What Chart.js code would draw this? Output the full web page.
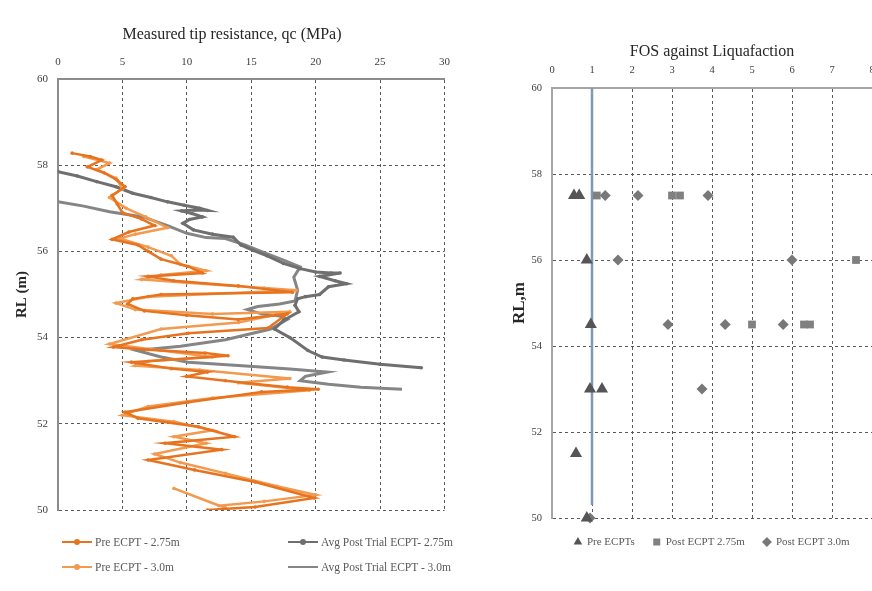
<!DOCTYPE html>
<html>
<head>
<title>Tip resistance and FOS profiles</title>
<script src="https://cdn.jsdelivr.net/npm/chart.js"></script>
<style>
    body { margin: 0; width: 872px; height: 591px; overflow: hidden; background: #fff; position: relative; font-family: 'Liberation Serif', 'Times New Roman', serif; }
    #left { position: absolute; left: 0; top: 0; }
    #right { position: absolute; left: 470px; top: 0; }
    .leg { position: absolute; font-size: 11.5px; color: #595959; white-space: nowrap; line-height: 14px; }
    .sw { display: inline-block; position: relative; width: 30px; height: 14px; vertical-align: top; margin-right: 3px; }
    .sw i { position: absolute; left: 0; right: 0; top: 6px; height: 2px; }
    .sw b { position: absolute; left: 12px; top: 4px; width: 6px; height: 6px; border-radius: 50%; }
</style>
</head>
<body>
<canvas id="left" width="460" height="591"></canvas>
<canvas id="right" width="420" height="591"></canvas>

<div class="leg" style="left:62px; top:535px;"><span class="sw"><i style="background:#e8731e"></i><b style="background:#e8731e"></b></span>Pre ECPT - 2.75m</div>
<div class="leg" style="left:288px; top:535px;"><span class="sw"><i style="background:#6f6f6f"></i><b style="background:#6f6f6f"></b></span>Avg Post Trial ECPT- 2.75m</div>
<div class="leg" style="left:62px; top:560px;"><span class="sw"><i style="background:#f29a50"></i><b style="background:#f29a50"></b></span>Pre ECPT - 3.0m</div>
<div class="leg" style="left:288px; top:560px;"><span class="sw"><i style="background:#858585"></i></span>Avg Post Trial ECPT - 3.0m</div>

<script>
    // ---- left chart: measured tip resistance qc (MPa) vs RL (m)
    const qcTicks = [0, 5, 10, 15, 20, 25, 30];
    const rlTicks = [50, 52, 54, 56, 58, 60];

    const pre275Qc = [1.1, 2.5, 3.4, 2.3, 3.6, 4.6, 5.2, 4.2, 4.6, 5.0, 6.5, 7.5, 5.5, 4.2, 6.2, 7.0, 8.0, 10.1, 11.2, 7.0, 9.0, 14.0, 18.2, 8.0, 5.8, 5.4, 6.7, 10.0, 14.0, 17.8, 16.3, 10.1, 6.5, 4.3, 7.0, 11.4, 13.2, 5.7, 8.8, 11.6, 10.0, 13.0, 17.8, 20.2, 15.8, 10.1, 5.2, 6.2, 10.9, 13.7, 8.3, 12.7, 7.0, 10.6, 15.3, 19.9, 15.3, 11.6];
    const pre275Rl = [58.28, 58.2, 58.12, 57.96, 57.82, 57.65, 57.5, 57.3, 57.1, 56.9, 56.75, 56.6, 56.45, 56.28, 56.15, 56.0, 55.82, 55.65, 55.5, 55.42, 55.32, 55.2, 55.05, 55.0, 54.9, 54.78, 54.62, 54.52, 54.42, 54.55, 54.22, 54.1, 53.95, 53.78, 53.72, 53.64, 53.58, 53.43, 53.28, 53.2, 53.1, 53.0, 52.85, 52.8, 52.74, 52.5, 52.27, 52.13, 51.93, 51.7, 51.55, 51.4, 51.16, 50.93, 50.65, 50.28, 50.07, 50.0];

    const pre30Qc = [2.0, 4.0, 3.0, 4.5, 5.0, 4.0, 5.3, 6.8, 8.5, 6.0, 4.8, 7.0, 8.8, 9.5, 11.5, 8.0, 6.5, 10.0, 16.0, 18.5, 7.0, 4.5, 6.0, 12.0, 18.0, 14.0, 8.0, 4.0, 8.0, 12.0, 7.0, 6.0, 11.0, 18.0, 14.0, 19.5, 12.0, 7.0, 5.0, 9.0, 12.0, 9.0, 11.5, 7.5, 9.5, 13.0, 17.0, 20.0, 16.0, 12.5, 9.0, 13.0];
    const pre30Rl = [58.2, 58.05, 57.9, 57.7, 57.45, 57.25, 57.0, 56.8, 56.55, 56.4, 56.3, 56.1, 55.9, 55.7, 55.55, 55.45, 55.35, 55.27, 55.15, 55.1, 54.95, 54.8, 54.65, 54.55, 54.6, 54.35, 54.2, 53.85, 53.7, 53.55, 53.45, 53.35, 53.25, 53.05, 52.95, 52.78, 52.6, 52.4, 52.2, 52.05, 51.85, 51.7, 51.55, 51.3, 51.1, 50.85, 50.55, 50.35, 50.2, 50.1, 50.5, 50.05];

    const post275Qc = [0, 1.5, 3, 4.5, 5.8, 7.2, 8.5, 9.8, 11, 11.6, 10.6, 9.6, 10.4, 11.2, 10.2, 9.7, 10.5, 12, 13.6, 14.2, 15.2, 16.2, 17.5, 18.8, 20, 21.2, 21.9, 20.3, 21.5, 22.4, 21, 20.3, 19.2, 18.6, 18.4, 18.7, 17.5, 16.8, 18, 19.4, 20.5, 22.2, 25, 28.2];
    const post275Rl = [57.85, 57.75, 57.62, 57.5, 57.35, 57.25, 57.15, 57.07, 57.0, 56.95, 56.96, 56.94, 56.88, 56.8, 56.74, 56.65, 56.5, 56.4, 56.33, 56.15, 56.02, 55.9, 55.72, 55.6, 55.52, 55.5, 55.5, 55.42, 55.32, 55.25, 55.18, 55.0, 54.95, 54.9, 54.75, 54.6, 54.4, 54.2, 54.0, 53.7, 53.55, 53.48, 53.38, 53.3];

    const post30Qc = [0, 2, 4, 6.6, 8.5, 10, 11.5, 13, 14.5, 16.2, 17.5, 18.8, 18.3, 18.6, 18.4, 17.2, 15.5, 14.7, 15.8, 17.2, 17.8, 16.5, 13, 9.5, 6.1, 8, 10.1, 14, 18, 20.9, 19.2, 18.8, 21, 23.5, 26.7];
    const post30Rl = [57.15, 57.05, 56.92, 56.8, 56.6, 56.42, 56.32, 56.3, 56.15, 55.95, 55.8, 55.64, 55.4, 55.1, 54.85, 54.78, 54.72, 54.65, 54.55, 54.5, 54.42, 54.2, 53.95, 53.8, 53.7, 53.55, 53.43, 53.35, 53.27, 53.2, 53.1, 53.0, 52.92, 52.85, 52.8];

    // ---- right chart: FOS against liquefaction vs RL
    const fosTicks = [0, 1, 2, 3, 4, 5, 6, 7, 8];
    const preFos = [0.55, 0.68, 0.87, 0.97, 0.95, 1.25, 0.6, 0.87];
    const preFosRl = [57.5, 57.5, 56, 54.5, 53, 53, 51.5, 50];
    const post275Fos = [1.12, 3.0, 3.2, 7.6, 5.0, 6.3, 6.45];
    const post275FosRl = [57.5, 57.5, 57.5, 56, 54.5, 54.5, 54.5];
    const post30Fos = [1.33, 2.15, 3.9, 1.65, 6.0, 2.9, 4.33, 5.78, 3.75, 0.95];
    const post30FosRl = [57.5, 57.5, 57.5, 56, 56, 54.5, 54.5, 54.5, 53, 50];
    const limitFos = [1, 1];
    const limitRl = [60, 50.3];

    const serif = "'Liberation Serif', 'Times New Roman', serif";
    const tickColor = '#404040';
    const gridColor = '#595959';

    function pts(xs, ys) {
        return xs.map((x, i) => ({ x: x, y: ys[i] }));
    }
    function fixedTicks(list) {
        return scale => { scale.ticks = list.map(v => ({ value: v })); };
    }

    new Chart(document.getElementById('left'), {
        type: 'scatter',
        data: {
            datasets: [
                { label: 'Pre ECPT - 2.75m', data: pts(pre275Qc, pre275Rl), showLine: true, borderColor: '#e8731e', backgroundColor: '#e8731e', borderWidth: 2.5, pointRadius: 1.8, pointBorderWidth: 0 },
                { label: 'Pre ECPT - 3.0m', data: pts(pre30Qc, pre30Rl), showLine: true, borderColor: '#f29a50', backgroundColor: '#f29a50', borderWidth: 2.5, pointRadius: 1.8, pointBorderWidth: 0 },
                { label: 'Avg Post Trial ECPT- 2.75m', data: pts(post275Qc, post275Rl), showLine: true, borderColor: '#6f6f6f', backgroundColor: '#6f6f6f', borderWidth: 3, pointRadius: 1.8, pointBorderWidth: 0 },
                { label: 'Avg Post Trial ECPT - 3.0m', data: pts(post30Qc, post30Rl), showLine: true, borderColor: '#858585', backgroundColor: '#858585', borderWidth: 3, pointRadius: 0 }
            ]
        },
        options: {
            responsive: false,
            animation: false,
            layout: { padding: { left: 19, right: 15, top: 0, bottom: 81 } },
            plugins: {
                legend: { display: false },
                tooltip: { enabled: false },
                title: {
                    display: true,
                    text: 'Measured tip resistance, qc (MPa)',
                    color: '#262626',
                    font: { family: serif, size: 16, weight: 'normal' },
                    padding: { top: 25.4, bottom: 0 }
                }
            },
            scales: {
                x: {
                    type: 'linear', position: 'top', min: 0, max: 30,
                    afterBuildTicks: fixedTicks(qcTicks),
                    afterFit: s => { s.height = 34.4; },
                    ticks: { padding: 10, color: tickColor, font: { family: serif, size: 11 } },
                    grid: { color: gridColor, drawTicks: false },
                    border: { color: '#8c8c8c', width: 2, dash: [3, 3] }
                },
                y: {
                    type: 'linear', min: 50, max: 60,
                    afterBuildTicks: fixedTicks(rlTicks),
                    afterFit: s => { s.width = 39; },
                    ticks: { padding: 10, color: tickColor, font: { family: serif, size: 11 } },
                    grid: { color: gridColor, drawTicks: false },
                    border: { color: '#8c8c8c', width: 2, dash: [3, 3] },
                    title: { display: true, text: 'RL (m)', color: '#262626', font: { family: serif, size: 15, weight: 'bold' }, padding: { top: -6, bottom: 0 } }
                }
            }
        }
    });

    new Chart(document.getElementById('right'), {
        type: 'scatter',
        data: {
            datasets: [
                { label: 'Pre ECPTs', data: pts(preFos, preFosRl), clip: false, pointStyle: 'triangle', pointRadius: 7, backgroundColor: '#555555', borderColor: '#555555', borderWidth: 0 },
                { label: 'Post ECPT 2.75m', data: pts(post275Fos, post275FosRl), clip: false, pointStyle: 'rect', pointRadius: 5.5, backgroundColor: '#808080', borderColor: '#808080', borderWidth: 0 },
                { label: 'Post ECPT 3.0m', data: pts(post30Fos, post30FosRl), clip: false, pointStyle: 'rectRot', pointRadius: 5.5, backgroundColor: '#787878', borderColor: '#787878', borderWidth: 0 },
                { label: 'FOS = 1', data: pts(limitFos, limitRl), showLine: true, pointRadius: 0, borderColor: '#7f98b5', borderWidth: 2.5, order: 1 }
            ]
        },
        options: {
            responsive: false,
            animation: false,
            layout: { padding: { left: 0, right: 18, top: 0, bottom: 33.5 } },
            plugins: {
                tooltip: { enabled: false },
                title: {
                    display: true,
                    fullSize: false,
                    text: 'FOS against Liquafaction',
                    color: '#262626',
                    font: { family: serif, size: 16, weight: 'normal' },
                    padding: { top: 42.4, bottom: 0 }
                },
                legend: {
                    position: 'bottom',
                    fullSize: false,
                    labels: {
                        usePointStyle: true,
                        boxWidth: 7,
                        boxHeight: 7,
                        padding: 18.5,
                        color: '#595959',
                        font: { family: serif, size: 11 },
                        filter: item => item.datasetIndex < 3
                    }
                }
            },
            scales: {
                x: {
                    type: 'linear', position: 'top', min: 0, max: 8,
                    afterBuildTicks: fixedTicks(fosTicks),
                    afterFit: s => { s.height = 26.4; },
                    ticks: { padding: 11.7, color: tickColor, font: { family: serif, size: 10.5 } },
                    grid: { color: gridColor, drawTicks: false },
                    border: { color: '#a6a6a6', width: 2, dash: [3, 3] }
                },
                y: {
                    type: 'linear', min: 50, max: 60,
                    afterBuildTicks: fixedTicks(rlTicks),
                    afterFit: s => { s.width = 82; },
                    ticks: { padding: 10, color: tickColor, font: { family: serif, size: 10.5 } },
                    grid: { color: gridColor, drawTicks: false },
                    border: { color: '#a6a6a6', width: 2, dash: [3, 3] },
                    title: { display: true, text: 'RL,m', color: '#262626', font: { family: serif, size: 17, weight: 'bold' }, padding: { top: 39.8, bottom: 0 } }
                }
            }
        }
    });
</script>
</body>
</html>
